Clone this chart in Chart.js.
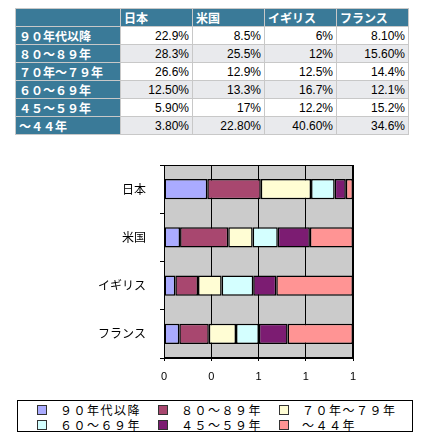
<!DOCTYPE html>
<html>
<head>
<meta charset="utf-8">
<script src="https://cdn.jsdelivr.net/npm/chart.js@4.4.1/dist/chart.umd.min.js"></script>
<style>
  body { margin: 0; background: #fff; width: 423px; height: 442px; overflow: hidden; position: relative; }
  #tabla { position: absolute; left: 15px; top: 8px; border-collapse: collapse; font-family: "Liberation Sans", Arial, sans-serif; font-size: 12px; }
  #tabla td { border: 1px solid #c8c8c8; height: 17px; padding: 0 3px; box-sizing: border-box; }
  #tabla td.cab { background: #3a7a98; color: #fff; font-weight: bold; font-family: "Noto Sans CJK JP", sans-serif; font-size: 12px; text-align: left; }
  #tabla td.num { text-align: right; color: #000; }
  #tabla tr.par td.num { background: #e9eaed; }
  #tabla tr.impar td.num { background: #fff; }
  #contenedor { position: absolute; left: 0; top: 140px; width: 423px; height: 260px; }
  #leyenda { position: absolute; left: 17px; top: 400px; width: 396px; height: 32px; border: 1px solid #000; box-sizing: border-box; font-family: "Noto Sans CJK JP", sans-serif; font-size: 12px; }
  .item { position: absolute; height: 15px; line-height: 15px; }
  .caja { position: absolute; left: 0; top: 3px; width: 8px; height: 8px; border: 1px solid #333; }
  .texto { position: absolute; left: 23px; top: 0; white-space: nowrap; letter-spacing: 1.5px; }
</style>
</head>
<body>
<table id="tabla"></table>
<div id="contenedor"><canvas id="grafico"></canvas></div>
<div id="leyenda"></div>
<script>
const paises = ["日本", "米国", "イギリス", "フランス"];

const etiquetasSeries = ["９０年代以降", "８０～８９年", "７０年～７９年", "６０～６９年", "４５～５９年", "～４４年"];

// valores por serie, en el orden de paises (tal como aparecen en la tabla)
const s90 = ["22.9%", "8.5%", "6%", "8.10%"];
const s80 = ["28.3%", "25.5%", "12%", "15.60%"];
const s70 = ["26.6%", "12.9%", "12.5%", "14.4%"];
const s60 = ["12.50%", "13.3%", "16.7%", "12.1%"];
const s45 = ["5.90%", "17%", "12.2%", "15.2%"];
const s44 = ["3.80%", "22.80%", "40.60%", "34.6%"];

const series = [s90, s80, s70, s60, s45, s44];

const colores = ["#aaabff", "#a8476f", "#fffdd4", "#d4ffff", "#7c1c72", "#ff9494"];

const marcasX = [0, 0.25, 0.5, 0.75, 1];

/* =========================
   TABLA
   ========================= */
function construirTabla() {
    const tabla = document.getElementById("tabla");
    const anchos = [105, 72, 72, 72, 72];

    let html = "<tr>";
    html += `<td class="cab" style="width:${anchos[0]}px"></td>`;
    paises.forEach((p, i) => {
        html += `<td class="cab" style="width:${anchos[i + 1]}px">${p}</td>`;
    });
    html += "</tr>";

    series.forEach((serie, i) => {
        html += `<tr class="${i % 2 === 0 ? "impar" : "par"}">`;
        html += `<td class="cab">${etiquetasSeries[i]}</td>`;
        serie.forEach(v => html += `<td class="num">${v}</td>`);
        html += "</tr>";
    });

    tabla.innerHTML = html;
}

/* =========================
   LEYENDA
   ========================= */
function construirLeyenda() {
    const leyenda = document.getElementById("leyenda");
    etiquetasSeries.forEach((etiqueta, i) => {
        const col = i % 3;
        const fila = Math.floor(i / 3);
        const item = document.createElement("div");
        item.className = "item";
        item.style.left = (19 + col * 121) + "px";
        item.style.top = (1 + fila * 15) + "px";
        item.innerHTML = `<span class="caja" style="background:${colores[i]}"></span><span class="texto">${etiqueta}</span>`;
        leyenda.appendChild(item);
    });
}

/* =========================
   GRAFICO
   ========================= */
const fondoPlot = {
    id: "fondoPlot",
    beforeDraw(chart) {
        const { ctx, chartArea: a } = chart;
        ctx.save();
        ctx.fillStyle = "#cbcbcb";
        ctx.fillRect(a.left, a.top, a.right - a.left, a.bottom - a.top);
        ctx.restore();
    },
    beforeDatasetsDraw(chart) {
        const { ctx, chartArea: a } = chart;
        ctx.save();
        ctx.strokeStyle = "#000";
        ctx.lineWidth = 1;
        ctx.strokeRect(Math.round(a.left) + 0.5, Math.round(a.top) + 0.5,
            Math.round(a.right - a.left) - 1, Math.round(a.bottom - a.top) - 1);
        ctx.restore();
    }
};

function construirGrafico() {
    const contexto = document.getElementById("grafico").getContext("2d");

    new Chart(contexto, {
        type: "bar",
        data: {
            labels: paises,
            datasets: series.map((serie, i) => ({
                label: etiquetasSeries[i],
                data: serie.map(v => parseFloat(v) / 100),
                backgroundColor: colores[i],
                borderColor: "#000",
                borderWidth: 1.5,
                borderSkipped: false,
                barPercentage: 0.42,
                categoryPercentage: 1
            }))
        },
        options: {
            indexAxis: "y",
            responsive: true,
            maintainAspectRatio: false,
            animation: false,
            layout: { padding: { top: 25, right: 70, left: 0, bottom: 0 } },
            plugins: {
                legend: { display: false },
                tooltip: { enabled: false }
            },
            scales: {
                x: {
                    stacked: true,
                    min: 0,
                    max: 1,
                    afterBuildTicks: scale => { scale.ticks = marcasX.map(v => ({ value: v })); },
                    afterFit: scale => { scale.height = 42; },
                    grid: { color: "#000", lineWidth: 1, drawTicks: true, tickLength: 3, tickColor: "#000" },
                    border: { display: true, color: "#000" },
                    ticks: {
                        color: "#000",
                        padding: 9,
                        font: { family: "'Liberation Sans', Arial, sans-serif", size: 11 },
                        callback: v => Math.round(v)
                    }
                },
                y: {
                    stacked: true,
                    offset: true,
                    afterFit: scale => { scale.width = 164; },
                    grid: { offset: true, drawOnChartArea: false, drawTicks: true, tickLength: 4, tickColor: "#000" },
                    border: { display: true, color: "#000" },
                    ticks: {
                        color: "#000",
                        padding: 14,
                        font: { family: "'Noto Sans CJK JP', sans-serif", size: 12 }
                    }
                }
            }
        },
        plugins: [fondoPlot]
    });
}

construirTabla();
construirLeyenda();
construirGrafico();
</script>
</body>
</html>
